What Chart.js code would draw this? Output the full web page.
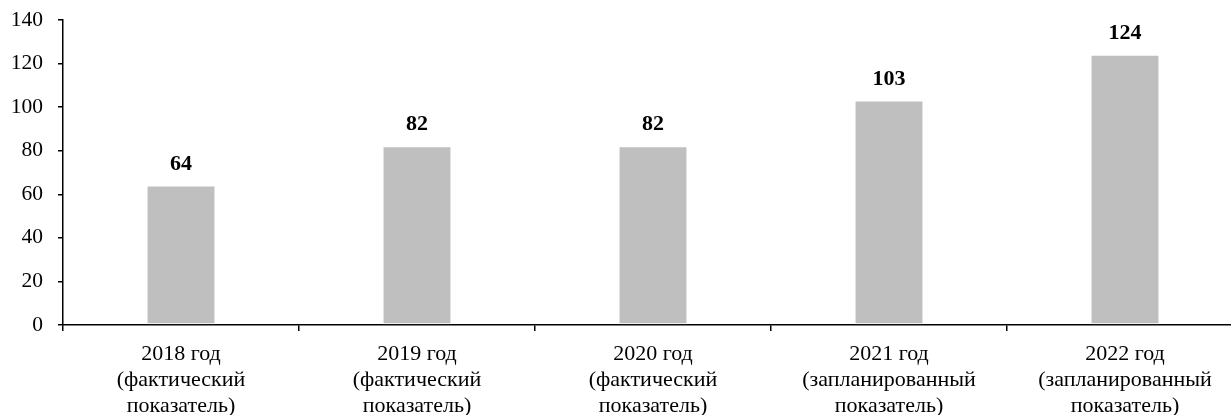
<!DOCTYPE html>
<html lang="ru">
<head>
<meta charset="utf-8">
<title>Показатели по годам</title>
<script src="https://cdn.jsdelivr.net/npm/chart.js@4.4.1/dist/chart.umd.min.js"></script>
<style>
  html, body { margin: 0; padding: 0; background: #fff; overflow: hidden; }
  #wrap { position: relative; width: 1245px; height: 415px; }
</style>
</head>
<body>
<div id="wrap"><canvas id="yearChart"></canvas></div>
<script>
const categories = [
  ['2018 год', '(фактический', 'показатель)'],
  ['2019 год', '(фактический', 'показатель)'],
  ['2020 год', '(фактический', 'показатель)'],
  ['2021 год', '(запланированный', 'показатель)'],
  ['2022 год', '(запланированный', 'показатель)']
];
const values = [64, 82, 82, 103, 124];
const yTicks = [0, 20, 40, 60, 80, 100, 120, 140];

const serif = '"Liberation Serif", "Times New Roman", serif';

// draws the bold value above each bar
const valueLabels = {
  id: 'valueLabels',
  afterDatasetsDraw(chart) {
    const ctx = chart.ctx;
    const meta = chart.getDatasetMeta(0);
    ctx.save();
    ctx.font = 'bold 22px ' + serif;
    ctx.fillStyle = '#000';
    ctx.textAlign = 'center';
    ctx.textBaseline = 'alphabetic';
    meta.data.forEach((bar, i) => {
      ctx.fillText(String(values[i]), bar.x, bar.y - 16);
    });
    ctx.restore();
  }
};

document.addEventListener('DOMContentLoaded', () => {
  const el = document.getElementById('yearChart');
  new Chart(el, {
    type: 'bar',
    data: {
      labels: categories,
      datasets: [{
        data: values,
        backgroundColor: '#bfbfbf',
        borderColor: '#ffffff',
        borderWidth: 1,
        borderSkipped: false,
        categoryPercentage: 1,
        barPercentage: 0.292
      }]
    },
    options: {
      responsive: true,
      maintainAspectRatio: false,
      animation: false,
      devicePixelRatio: 1,
      layout: { padding: { top: 20, right: 2, bottom: 0, left: 0 } },
      plugins: {
        legend: { display: false },
        tooltip: { enabled: false }
      },
      scales: {
        x: {
          offset: true,
          afterFit: (scale) => {
            scale.height = 90;
            scale.paddingLeft = 0;
            scale.paddingRight = 0;
          },
          grid: {
            offset: true,
            drawOnChartArea: false,
            drawTicks: true,
            tickLength: 6,
            color: '#000',
            lineWidth: 1.5
          },
          border: { display: true, color: '#000', width: 1.5 },
          ticks: {
            color: '#000',
            padding: 10,
            maxRotation: 0,
            autoSkip: false,
            font: { family: serif, size: 22, lineHeight: '26px' }
          }
        },
        y: {
          min: 0,
          max: 140,
          afterFit: (scale) => {
            scale.width = 63;
            scale.paddingTop = 0;
            scale.paddingBottom = 0;
          },
          afterBuildTicks: (scale) => { scale.ticks = yTicks.map(v => ({ value: v })); },
          grid: {
            drawOnChartArea: false,
            drawTicks: true,
            tickLength: 5,
            color: '#000',
            lineWidth: 1.5
          },
          border: { display: true, color: '#000', width: 1.5 },
          ticks: {
            color: '#000',
            padding: 15,
            font: { family: serif, size: 21.5 }
          }
        }
      }
    },
    plugins: [valueLabels]
  });
});
</script>
</body>
</html>
